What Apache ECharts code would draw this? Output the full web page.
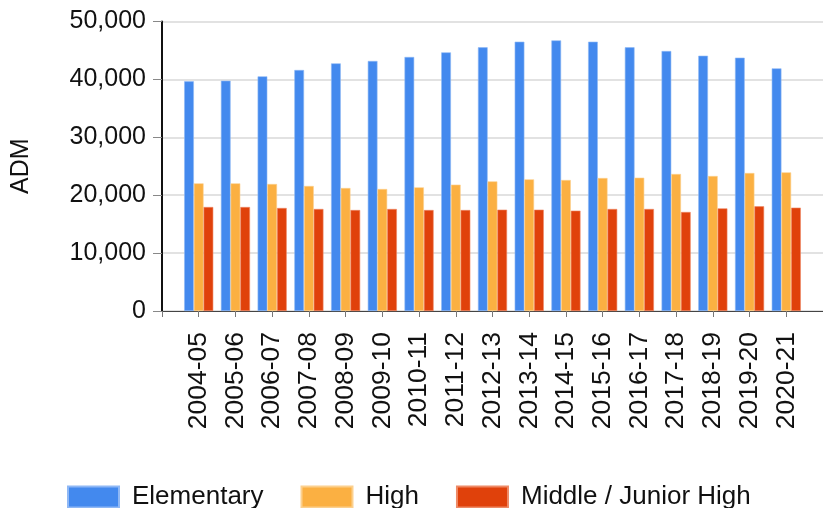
<!DOCTYPE html>
<html>
<head>
<meta charset="utf-8">
<script src="https://cdn.jsdelivr.net/npm/echarts@6/dist/echarts.min.js"></script>
<style>
  html, body { margin: 0; padding: 0; background: #fff; }
  #chart { width: 823px; height: 508px; }
</style>
</head>
<body>
<div id="chart"></div>
<script>
const years = ["2004-05", "2005-06", "2006-07", "2007-08", "2008-09", "2009-10", "2010-11", "2011-12",
  "2012-13", "2013-14", "2014-15", "2015-16", "2016-17", "2017-18", "2018-19", "2019-20", "2020-21"];
const elementary = [39670, 39780, 40530, 41620, 42770, 43180, 43870, 44670, 45540,
  46510, 46740, 46510, 45540, 44900, 44090, 43750, 41910];
const high = [22050, 22050, 21930, 21590, 21240, 21070, 21360, 21820, 22390,
  22740, 22620, 22970, 23020, 23660, 23310, 23830, 23950];
const middle = [17960, 17960, 17790, 17620, 17440, 17620, 17440, 17440, 17500,
  17500, 17330, 17620, 17620, 17100, 17730, 18080, 17850];
const yTicks = [0, 10000, 20000, 30000, 40000, 50000];

const font = "Liberation Sans";
// empty slot at each end so the axis runs past the first and last group
const pad = (arr, v) => [v].concat(arr, [v]);

function barSeries(name, values, color, edge) {
  return {
    name: name,
    type: "bar",
    data: pad(values, null),
    barWidth: 9.7,
    barGap: "0%",
    itemStyle: { color: color, borderColor: edge, borderWidth: 0.6 },
  };
}

const myChart = echarts.init(document.getElementById("chart"));
myChart.setOption({
  animation: false,
  grid: { left: 162, right: -3, top: 21.5, bottom: 197 },
  legend: {
    left: 67,
    top: 484,
    padding: 0,
    itemWidth: 51,
    itemHeight: 21,
    itemGap: 37,
    icon: "rect",
    textStyle: { fontFamily: font, fontSize: 26, color: "#111", padding: [0, 0, 0, 8] },
    data: ["Elementary", "High", "Middle / Junior High"],
  },
  xAxis: {
    type: "category",
    boundaryGap: false,
    data: pad(years, ""),
    axisLine: { lineStyle: { color: "#444", width: 1 } },
    axisTick: { show: true, length: 6, lineStyle: { color: "#777" }, interval: 0 },
    axisLabel: {
      rotate: 90,
      interval: 0,
      margin: 21,
      fontFamily: font,
      fontSize: 26.5,
      color: "#111",
    },
    splitLine: { show: false },
  },
  yAxis: {
    type: "value",
    min: yTicks[0],
    max: yTicks[yTicks.length - 1],
    interval: 10000,
    name: "ADM",
    nameLocation: "middle",
    nameRotate: 90,
    nameGap: 128,
    nameTextStyle: { fontFamily: font, fontSize: 25, color: "#111" },
    axisLine: { show: true, lineStyle: { color: "#111", width: 2 } },
    axisTick: { show: true, length: 9, lineStyle: { color: "#888" } },
    axisLabel: {
      margin: 16,
      fontFamily: font,
      fontSize: 25,
      color: "#111",
      formatter: (v) => v.toLocaleString("en-US"),
    },
    splitLine: { lineStyle: { color: "#e2e2e2", width: 2 } },
  },
  series: [
    barSeries("Elementary", elementary, "#4389ee", "#8fb8f5"),
    barSeries("High", high, "#fbb042", "#fcd08e"),
    barSeries("Middle / Junior High", middle, "#e0410b", "#ee8a66"),
  ],
});
</script>
</body>
</html>
